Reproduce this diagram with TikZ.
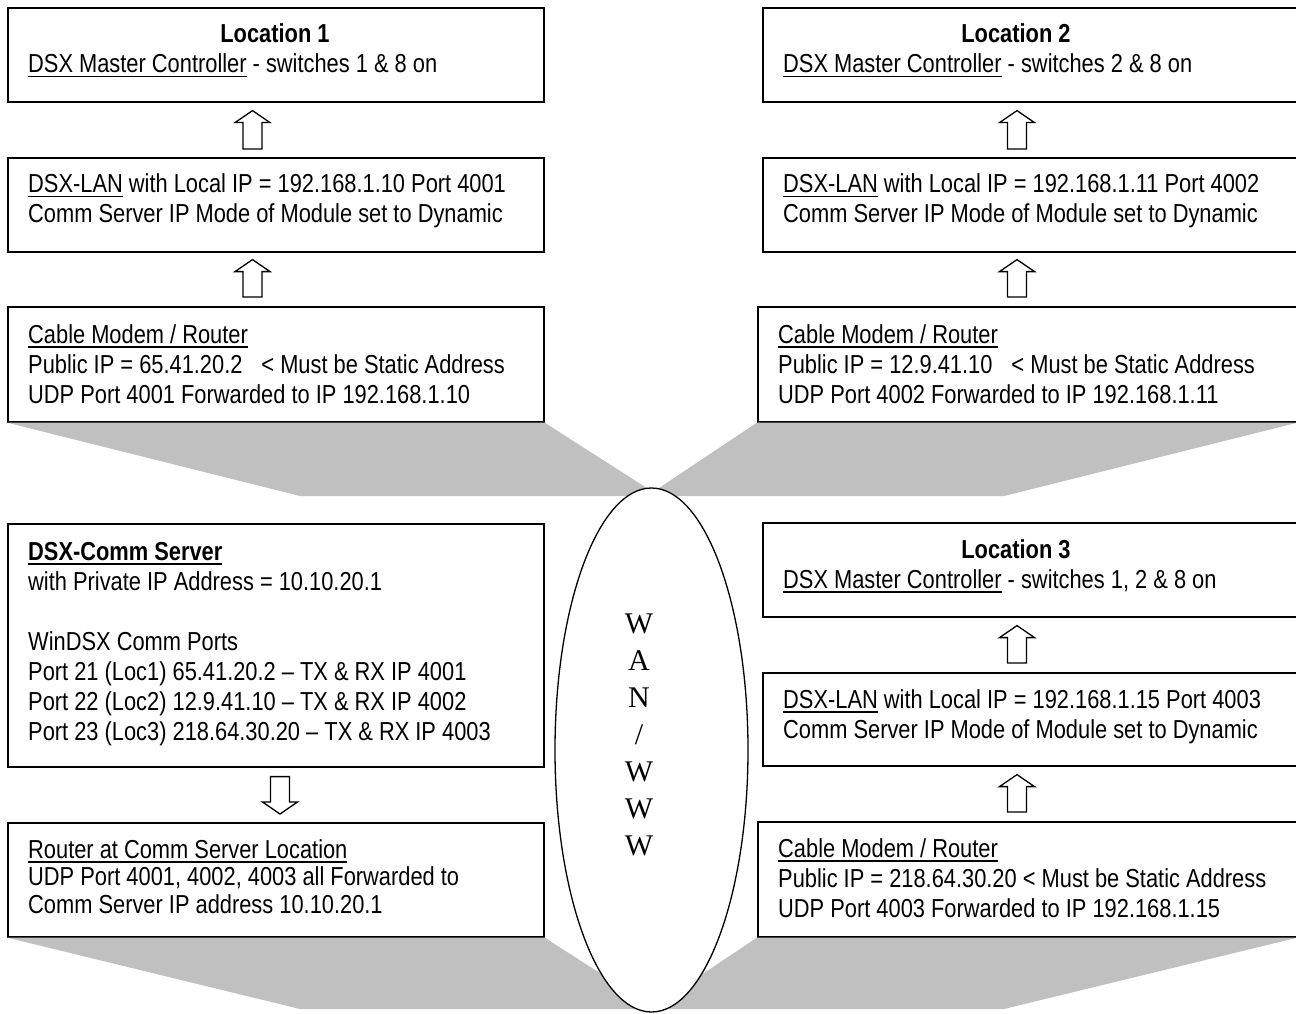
\documentclass[tikz,border=0pt]{standalone}
\usepackage{fontspec}
\setmainfont{Liberation Sans}[FakeStretch=0.84]
\newfontfamily\wanfont{Liberation Serif}
\usetikzlibrary{calc,shapes.geometric}
\newsavebox{\myulbox}
\newcommand{\myul}[1]{\sbox{\myulbox}{#1}\rlap{\rule[-4.5pt]{\wd\myulbox}{1.5pt}}\usebox{\myulbox}}
\definecolor{bandgray}{RGB}{192,192,192}
\newcommand{\txtlines}[1]{\begin{tabular}[t]{@{}l@{}}#1\end{tabular}}
\tikzset{
  box/.style={draw, line width=1.6pt, fill=white, rectangle, anchor=north west, inner sep=0pt},
  txt/.style={inner sep=0pt, anchor=base west, font=\fontsize{26pt}{30pt}\selectfont},
  ttl/.style={inner sep=0pt, anchor=base, font=\fontsize{26pt}{30pt}\selectfont\bfseries},
  band/.style={fill=bandgray, draw=none},
  blockarr/.style={draw, line width=1.3pt, fill=white, to path={
    let \p1=(\tikztostart), \p2=(\tikztotarget), \n1={ifthenelse(\y2>\y1,1,-1)} in
    (\x1-9.5pt,\y1) -- (\x1-9.5pt,{\y2-\n1*12pt}) -- (\x1-17.5pt,{\y2-\n1*12pt}) -- (\x1,\y2)
    -- (\x1+17.5pt,{\y2-\n1*12pt}) -- (\x1+9.5pt,{\y2-\n1*12pt}) -- (\x1+9.5pt,\y1) -- cycle}}
}
\begin{document}
\begin{tikzpicture}[x=1pt,y=-1pt]
\useasboundingbox (0,0) rectangle (1296,1014);
\coordinate (axL) at (252.5,0);
\coordinate (axR) at (1017,0);
\coordinate (axD) at (280,0);
% boxes (left)
\node[box, minimum width=536pt, minimum height=94pt] (l1) at (7,7) {};
\node[box, minimum width=536pt, minimum height=94pt] (l1b) at (7,157) {};
\node[box, minimum width=536pt, minimum height=115pt] (l1c) at (7,306) {};
\node[box, minimum width=536pt, minimum height=243pt] (cs) at (7,523) {};
\node[box, minimum width=536pt, minimum height=114pt] (rt) at (7,822) {};
% boxes (right)
\node[box, minimum width=534pt, minimum height=94pt] (r1) at (762,7) {};
\node[box, minimum width=534pt, minimum height=94pt] (r1b) at (762,157) {};
\node[box, minimum width=539pt, minimum height=115pt] (r1c) at (757,306) {};
\node[box, minimum width=534pt, minimum height=94pt] (r3) at (762,522) {};
\node[box, minimum width=534pt, minimum height=93pt] (r3b) at (762,672) {};
\node[box, minimum width=539pt, minimum height=115pt] (r3c) at (757,821) {};
% gray bands
\path[band] (l1c.south west) -- (l1c.south east) -- (653,492) -- (r1c.south west)
  -- (r1c.south east) -- (1004,496) -- (300,496) -- cycle;
\path[band] (rt.south west) -- (rt.south east) -- (653,1007) -- (r3c.south west)
  -- (r3c.south east) -- (1004,1009) -- (300,1009) -- cycle;
% ellipse
\node[draw, ellipse, line width=1.3pt, fill=white, minimum width=193pt, minimum height=524pt, inner sep=0pt] (wan) at (651.5,750) {};
\node[inner sep=0pt, anchor=base, font=\fontsize{30pt}{37pt}\wanfont] (wantext) at (639,633)
  {\begin{tabular}[t]{@{}c@{}}W\\A\\N\\/\\W\\W\\W\end{tabular}};
% texts left
\node[ttl] (t1a) at (275,43) {Location 1};
\node[txt] (t1b) at (28,73) {\myul{DSX Master Controller} - switches 1 \& 8 on};
\node[txt] (t2) at (28,193) {\txtlines{\myul{DSX-LAN} with Local IP = 192.168.1.10 Port 4001\\
  Comm Server IP Mode of Module set to Dynamic}};
\node[txt] (t3) at (28,343) {\txtlines{\myul{Cable Modem / Router}\\
  Public IP = 65.41.20.2\hspace{19pt}< Must be Static Address\\
  UDP Port 4001 Forwarded to IP 192.168.1.10}};
\node[txt] (t4) at (28,560) {\txtlines{\textbf{\myul{DSX-Comm Server}}\\
  with Private IP Address = 10.10.20.1\\
  \\
  WinDSX Comm Ports\\
  Port 21 (Loc1) 65.41.20.2 -- TX \& RX IP 4001\\
  Port 22 (Loc2) 12.9.41.10 -- TX \& RX IP 4002\\
  Port 23 (Loc3) 218.64.30.20 -- TX \& RX IP 4003}};
\node[txt, font=\fontsize{26pt}{27.5pt}\selectfont] (t5) at (28,858) {\txtlines{\myul{Router at Comm Server Location}\\
  UDP Port 4001, 4002, 4003 all Forwarded to\\
  Comm Server IP address 10.10.20.1}};
% texts right
\node[ttl] (r1a) at (1016,43) {Location 2};
\node[txt] (r1t) at (783,73) {\myul{DSX Master Controller} - switches 2 \& 8 on};
\node[txt] (r2t) at (783,193) {\txtlines{\myul{DSX-LAN} with Local IP = 192.168.1.11 Port 4002\\
  Comm Server IP Mode of Module set to Dynamic}};
\node[txt] (r3t) at (778,343) {\txtlines{\myul{Cable Modem / Router}\\
  Public IP = 12.9.41.10\hspace{19pt}< Must be Static Address\\
  UDP Port 4002 Forwarded to IP 192.168.1.11}};
\node[ttl] (r4a) at (1016,558) {Location 3};
\node[txt] (r4t) at (783,588) {\myul{DSX Master Controller} - switches 1, 2 \& 8 on};
\node[txt] (r5t) at (783,708) {\txtlines{\myul{DSX-LAN} with Local IP = 192.168.1.15 Port 4003\\
  Comm Server IP Mode of Module set to Dynamic}};
\node[txt] (r6t) at (778,857) {\txtlines{\myul{Cable Modem / Router}\\
  Public IP = 218.64.30.20 < Must be Static Address\\
  UDP Port 4003 Forwarded to IP 192.168.1.15}};
% block arrows
\draw[blockarr] ($(l1b.north -| axL)+(0,-8)$) to ($(l1.south -| axL)+(0,8)$);
\draw[blockarr] ($(l1c.north -| axL)+(0,-9)$) to ($(l1b.south -| axL)+(0,7)$);
\draw[blockarr] ($(cs.south -| axD)+(0,9)$) to ($(rt.north -| axD)+(0,-8)$);
\draw[blockarr] ($(r1b.north -| axR)+(0,-8)$) to ($(r1.south -| axR)+(0,8)$);
\draw[blockarr] ($(r1c.north -| axR)+(0,-9)$) to ($(r1b.south -| axR)+(0,7)$);
\draw[blockarr] ($(r3b.north -| axR)+(0,-9)$) to ($(r3.south -| axR)+(0,8)$);
\draw[blockarr] ($(r3c.north -| axR)+(0,-9)$) to ($(r3b.south -| axR)+(0,8)$);
\end{tikzpicture}
\end{document}
